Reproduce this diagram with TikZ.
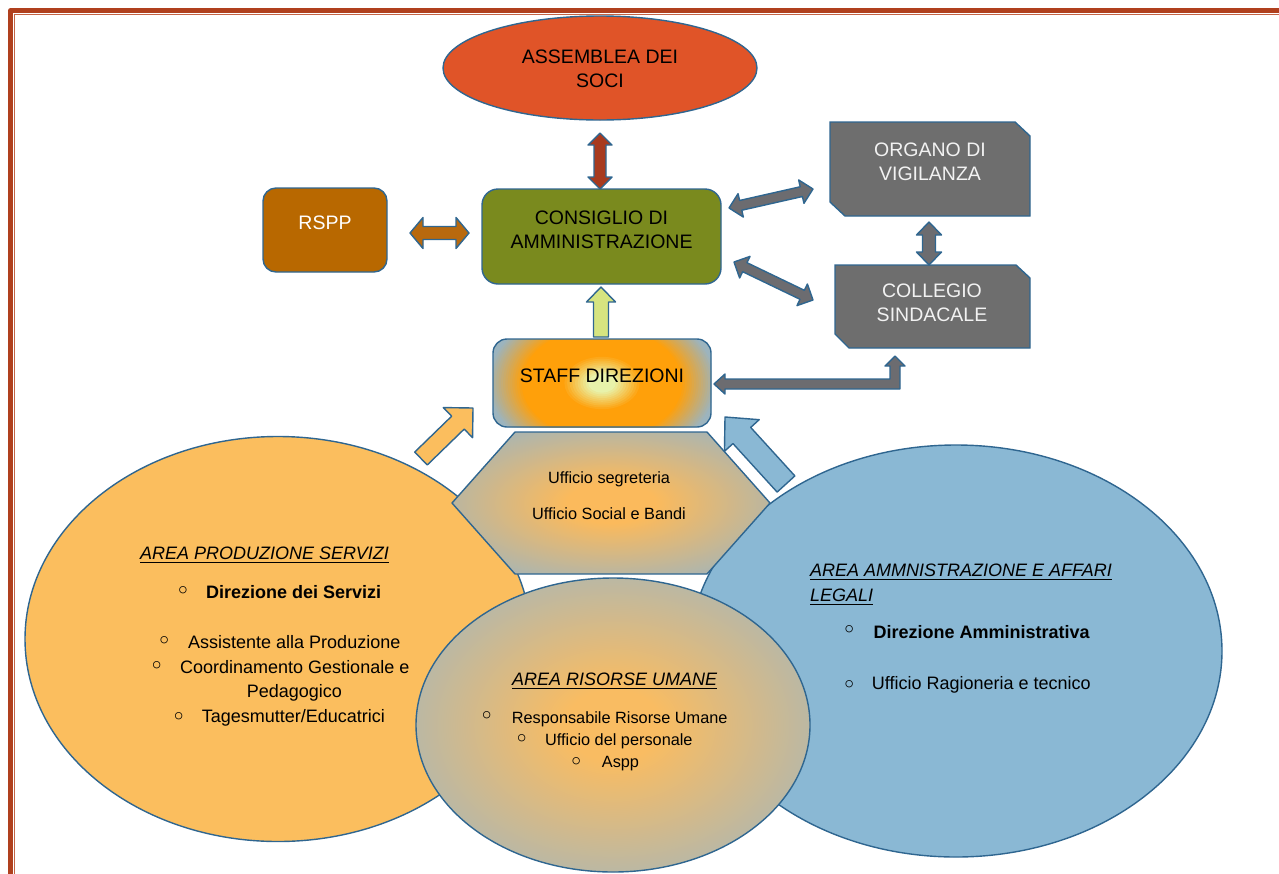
\documentclass[tikz,border=0pt]{standalone}
\usepackage{fontspec}
\setmainfont{Liberation Sans}
\newfontfamily\bulfont{DejaVu Sans}
\usetikzlibrary{shapes.geometric,calc,backgrounds}

\definecolor{frameD}{RGB}{176,64,30}
\definecolor{frameL}{RGB}{196,100,70}
\definecolor{edge}{RGB}{47,102,144}
\definecolor{assem}{RGB}{224,84,40}
\definecolor{assArr}{RGB}{168,58,30}
\definecolor{rspp}{RGB}{184,104,0}
\definecolor{rsppArr}{RGB}{184,105,14}
\definecolor{cons}{RGB}{122,138,30}
\definecolor{grayB}{RGB}{110,110,110}
\definecolor{grayA}{RGB}{108,108,112}
\definecolor{upArr}{RGB}{214,228,128}
\definecolor{lorange}{RGB}{251,190,94}
\definecolor{lblue}{RGB}{138,184,212}
\definecolor{stY}{RGB}{232,242,170}
\definecolor{stO}{RGB}{255,160,10}
\definecolor{stB}{RGB}{156,180,190}
\definecolor{hxO}{RGB}{251,186,92}
\definecolor{hxB}{RGB}{154,180,194}
\definecolor{mdO}{RGB}{249,188,98}
\definecolor{mdB}{RGB}{158,182,194}
\definecolor{wtxt}{RGB}{242,242,242}

\pgfdeclareradialshading{hexsh}{\pgfpoint{0bp}{0bp}}{color(0bp)=(hxO); color(7bp)=(hxO); color(34bp)=(hxB); color(50bp)=(hxB)}
\pgfdeclareradialshading{midsh}{\pgfpoint{0bp}{0bp}}{color(0bp)=(mdO); color(6bp)=(mdO); color(34bp)=(mdB); color(50bp)=(mdB)}

% double block arrow: style, end A, end B, head length, head half width, shaft half width
\newcommand\dbarr[6]{\draw[#1] (#2) -- ($(#2)!#4!(#3)!#5!90:(#3)$) -- ($(#2)!#4!(#3)!#6!90:(#3)$) -- ($(#3)!#4!(#2)!#6!-90:(#2)$) -- ($(#3)!#4!(#2)!#5!-90:(#2)$) -- (#3) -- ($(#3)!#4!(#2)!#5!90:(#2)$) -- ($(#3)!#4!(#2)!#6!90:(#2)$) -- ($(#2)!#4!(#3)!#6!-90:(#3)$) -- ($(#2)!#4!(#3)!#5!-90:(#3)$) -- cycle;}
% single block arrow: style, tip, tail, head length, head half width, shaft half width
\newcommand\sarr[6]{\draw[#1] (#2) -- ($(#2)!#4!(#3)!#5!90:(#3)$) -- ($(#2)!#4!(#3)!#6!90:(#3)$) -- ($(#3)!#6!-90:(#2)$) -- ($(#3)!#6!90:(#2)$) -- ($(#2)!#4!(#3)!#6!-90:(#3)$) -- ($(#2)!#4!(#3)!#5!-90:(#3)$) -- cycle;}
\newcommand\mkbul[3]{\node[bulst] (#1) at (#2,#3) {◦};}

\begin{document}
\begin{tikzpicture}[x=1pt,y=-1pt,line join=round,
  ol/.style={draw=edge,line width=1.4pt},
  boxtxt/.style={font=\fontsize{19.5}{24}\selectfont,align=center,inner sep=0pt},
  hd/.style={anchor=base west,inner sep=0pt,font=\fontsize{18}{22}\selectfont\itshape},
  ul/.style={line width=1.2pt,black},
  itL/.style={anchor=base west,inner sep=0pt,font=\fontsize{18}{22}\selectfont},
  itM/.style={anchor=base west,inner sep=0pt,font=\fontsize{16.3}{20}\selectfont},
  bulst/.style={inner sep=0pt,font=\bulfont\fontsize{25}{25}\selectfont},
  shapebox/.style={inner sep=0pt,outer sep=0pt}]
\useasboundingbox (0,0) rectangle (1279,873);

% page frame
\draw[frameD,line width=4.5pt] (10.5,900) -- (10.5,10.5) -- (1300,10.5);
\draw[frameL,line width=1.1pt] (14.6,900) -- (14.6,14.6) -- (1300,14.6);

% upper boxes
\node[shapebox,ellipse,ol,fill=assem,minimum width=314,minimum height=104] (assem) at (600,68) {};
\node[shapebox,ol,fill=rspp,rounded corners=13,minimum width=124,minimum height=84] (rspp) at (325,230) {};
\node[shapebox,ol,fill=cons,rounded corners=16,minimum width=239,minimum height=95] (cons) at (601.5,236.5) {};
\node[shapebox,minimum width=200,minimum height=94] (org) at (930,169) {};
\node[shapebox,minimum width=195,minimum height=83] (col) at (932.5,306.5) {};
\begin{scope}[on background layer]
\draw[ol,fill=grayB] (org.north west) -- ([xshift=-15pt]org.north east) -- ([yshift=-14pt]org.north east) -- (org.south east) -- ([xshift=15pt]org.south west) -- ([yshift=14pt]org.south west) -- cycle;
\draw[ol,fill=grayB] (col.north west) -- ([xshift=-14pt]col.north east) -- ([yshift=-13pt]col.north east) -- (col.south east) -- ([xshift=14pt]col.south west) -- ([yshift=14pt]col.south west) -- cycle;
\end{scope}
% staff box: gray-blue base, elliptic orange glow (stepped ellipses) clipped to the box, outline on top
\node[shapebox,fill=stB,rounded corners=14,minimum width=218,minimum height=88] (staff) at (602,383) {};
\begin{scope}
\clip[rounded corners=14pt] (staff.south west) rectangle (staff.north east);
\foreach \i in {0,...,15} {
  \pgfmathsetmacro\tv{1.0-\i*0.02}
  \pgfmathsetmacro\pp{min(100,max(0,(\tv-0.7)/0.3*100))}
  \pgfmathsetmacro\rx{\tv*115}
  \pgfmathsetmacro\ry{\tv*80}
  \fill[stB!\pp!stO] (staff.center) ellipse [x radius=\rx pt, y radius=\ry pt];
}
\foreach \i in {0,...,10} {
  \pgfmathsetmacro\tv{0.35-\i*0.023}
  \pgfmathsetmacro\pp{min(100,max(0,(\tv-0.12)/0.23*100))}
  \pgfmathsetmacro\rx{\tv*115}
  \pgfmathsetmacro\ry{\tv*80}
  \fill[stO!\pp!stY] (staff.center) ellipse [x radius=\rx pt, y radius=\ry pt];
}
\end{scope}
\draw[ol,rounded corners=14pt] (staff.south west) rectangle (staff.north east);

% connector coordinates
\coordinate (t1) at ($(assem.south)+(0,13)$);
\coordinate (t2) at (assem.south |- cons.north);
\coordinate (r1) at ($(rspp.east)+(23,3)$);
\coordinate (r2) at ($(cons.west)+(-13,-3.5)$);
\coordinate (v1) at ($(org.south)+(-1,6)$);
\coordinate (v2) at ($(col.north)+(-3.5,0)$);
\coordinate (d1) at ($(cons.east)+(8,-28.5)$);
\coordinate (d2) at ($(org.west)+(-17,20)$);
\coordinate (e1) at ($(cons.east)+(13,25.5)$);
\coordinate (e2) at ($(col.west)+(-22,-6.5)$);
\coordinate (u1) at ($(staff.north)+(-1,-2)$);
\coordinate (u2) at ($(cons.south)+(-0.5,3)$);
\coordinate (k1) at ($(staff.east)+(3,1)$);
\coordinate (k2) at ($(col.south)+(-37.5,8)$);

% arrows of the upper part
\dbarr{ol,fill=assArr}{t1}{t2}{12pt}{12pt}{6pt}
\dbarr{ol,fill=rsppArr}{r1}{r2}{13pt}{15.5pt}{6.5pt}
\dbarr{ol,fill=grayA}{v1}{v2}{13pt}{12.5pt}{6.5pt}
\dbarr{ol,fill=grayA}{d1}{d2}{12pt}{12pt}{5pt}
\dbarr{ol,fill=grayA}{e1}{e2}{12pt}{12pt}{5pt}
\sarr{ol,fill=upArr}{u2}{u1}{15pt}{14.5pt}{7.5pt}
\draw[ol,fill=grayA] (k1) -- ++(11,-10) -- ++(0,5) -- ($(k1 -| k2)+(-5,-5)$) -- ($(k2)+(-5,10)$) -- ($(k2)+(-10,10)$) -- (k2) -- ($(k2)+(10,10)$) -- ($(k2)+(5,10)$) -- ($(k1 -| k2)+(5,5)$) -- ($(k1)+(11,5)$) -- ($(k1)+(11,10)$) -- cycle;

% lower areas
\node[shapebox,ellipse,ol,fill=lorange,minimum width=506,minimum height=405] (areaL) at (278,639) {};
\node[shapebox,ellipse,ol,fill=lblue,minimum width=532,minimum height=412] (areaR) at (956,651) {};
\coordinate (hx) at (611,503);
\shadedraw[ol,shading=hexsh] ($(hx)+(-159,0)$) -- ($(hx)+(-96,-71)$) -- ($(hx)+(96,-71)$) -- ($(hx)+(159,0)$) -- ($(hx)+(96,71)$) -- ($(hx)+(-96,71)$) -- cycle;
\node[shapebox,ellipse,ol,shade,shading=midsh,minimum width=394,minimum height=294] (areaM) at (613,725) {};

\coordinate (lt) at ($(staff.south west)+(-72,31.5)$);
\coordinate (lp) at ($(staff.south west)+(-20,-19)$);
\coordinate (rt) at ($(staff.south east)+(75,57)$);
\coordinate (rp) at ($(staff.south east)+(14,-10)$);
\sarr{ol,fill=lorange}{lp}{lt}{21pt}{21pt}{9pt}
\sarr{ol,fill=lblue}{rp}{rt}{25pt}{23.5pt}{12pt}

% box texts
\node[boxtxt] (assemT) at (600,68.5) {ASSEMBLEA DEI\\SOCI};
\node[boxtxt,text=white] (rsppT) at (325,223) {RSPP};
\node[boxtxt] (consT) at (601.5,230) {CONSIGLIO DI\\AMMINISTRAZIONE};
\node[boxtxt,text=wtxt] (orgT) at (930,162) {ORGANO DI\\VIGILANZA};
\node[boxtxt,text=wtxt] (colT) at (932,302.5) {COLLEGIO\\SINDACALE};
\node[boxtxt] (staffT) at (602,375.5) {STAFF DIREZIONI};
\node[inner sep=0pt,align=center,font=\fontsize{16.3}{35.6}\selectfont] (hexT) at (609,495.5) {Ufficio segreteria\\Ufficio Social e Bandi};

% left area texts
\node[hd] (hL) at (140,559) {AREA PRODUZIONE SERVIZI};
\draw[ul] ($(hL.base west)+(0,3.5)$) -- ($(hL.base east)+(0,3.5)$);
\mkbul{bL1}{183}{593.3}
\node[itL,font=\fontsize{18}{22}\selectfont\bfseries] (tL1) at (206,598) {Direzione dei Servizi};
\mkbul{bL2}{164.3}{643.5}
\node[itL] (tL2) at (188,648) {Assistente alla Produzione};
\mkbul{bL3}{156.7}{668}
\node[itL] (tL3) at (180,673) {Coordinamento Gestionale e};
\node[itL] (tL4) at (246.7,697) {Pedagogico};
\mkbul{bL5}{178.8}{718.8}
\node[itL] (tL5) at (201.7,722.5) {Tagesmutter/Educatrici};

% middle area texts
\node[hd] (hM) at (512,685) {AREA RISORSE UMANE};
\draw[ul] ($(hM.base west)+(0,3.5)$) -- ($(hM.base east)+(0,3.5)$);
\mkbul{bM1}{486.7}{718.3}
\node[itM] (tM1) at (511.7,723) {Responsabile Risorse Umane};
\mkbul{bM2}{521.7}{740.7}
\node[itM] (tM2) at (545,745) {Ufficio del personale};
\mkbul{bM3}{576.3}{763.7}
\node[itM] (tM3) at (601.7,767) {Aspp};

% right area texts
\node[hd] (hR1) at (810,576.3) {AREA AMMNISTRAZIONE E AFFARI};
\draw[ul] ($(hR1.base west)+(0,3.5)$) -- ($(hR1.base east)+(0,3.5)$);
\node[hd] (hR2) at (810,601.3) {LEGALI};
\draw[ul] ($(hR2.base west)+(0,3.5)$) -- ($(hR2.base east)+(0,3.5)$);
\mkbul{bR1}{849.2}{632.5}
\node[itL,font=\fontsize{18}{22}\selectfont\bfseries] (tR1) at (873.3,638) {Direzione Amministrativa};
\mkbul{bR2}{849.2}{687}
\node[itL] (tR2) at (871.7,689) {Ufficio Ragioneria e tecnico};
\end{tikzpicture}
\end{document}
